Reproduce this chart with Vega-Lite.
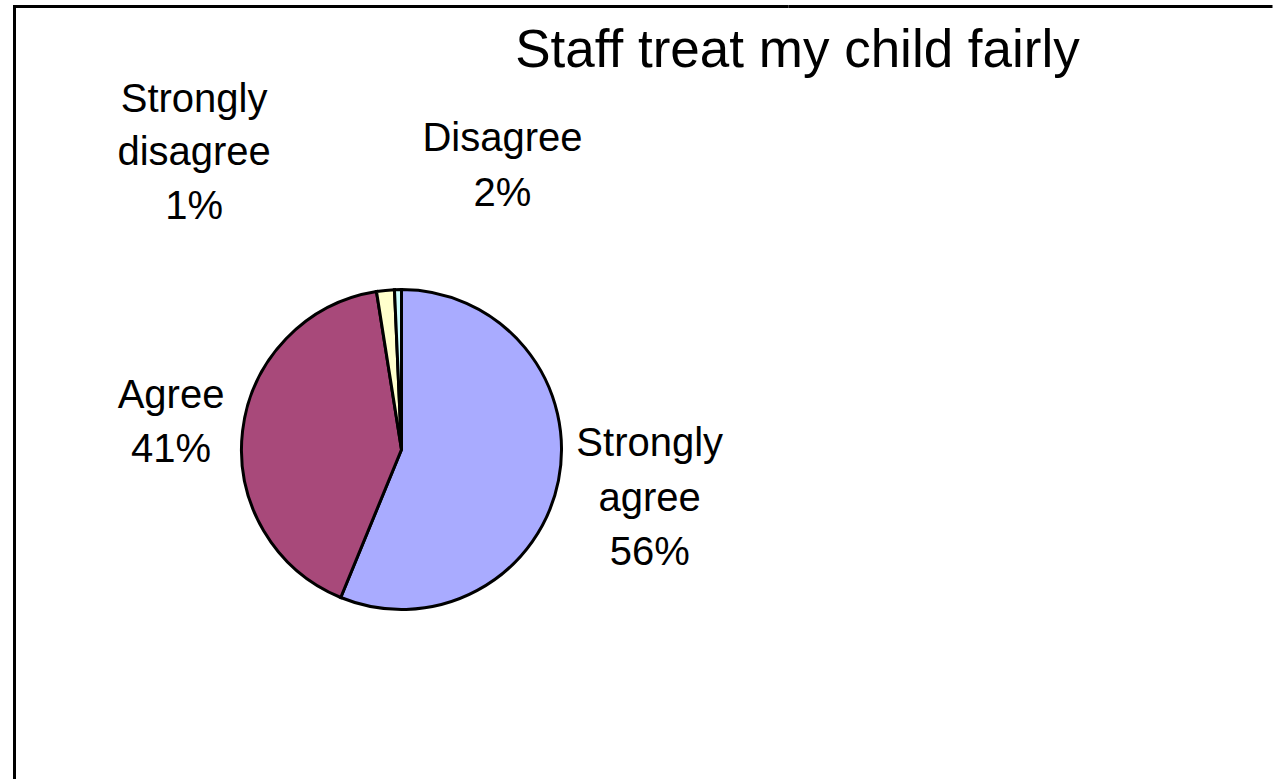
{
  "$schema": "https://vega.github.io/schema/vega-lite/v6.json",
  "autosize": {"type": "pad"},
  "padding": {"left": -0.5, "top": 4.5, "right": -2, "bottom": -113},
  "background": "white",
  "spacing": 0,
  "bounds": "flush",
  "config": {
    "view": {"stroke": null},
    "font": "Liberation Sans"
  },
  "datasets": {
    "responses": [
      {"category": "Strongly agree", "value": 56.2, "order": 1, "label": "Strongly\nagree\n56%"},
      {"category": "Agree", "value": 41.3, "order": 2, "label": "Agree\n41%"},
      {"category": "Disagree", "value": 1.8, "order": 3, "label": "Disagree\n2%"},
      {"category": "Strongly disagree", "value": 0.7, "order": 4, "label": "Strongly\ndisagree\n1%"}
    ],
    "frame": [{}]
  },
  "hconcat": [
    {
      "width": 774,
      "height": 886,
      "title": {
        "text": "Staff treat my child fairly",
        "anchor": "middle",
        "frame": "group",
        "dx": 396,
        "offset": -115,
        "baseline": "alphabetic",
        "fontSize": 53,
        "fontWeight": "normal",
        "font": "Liberation Sans",
        "color": "black"
      },
      "data": {"name": "responses"},
      "layer": [
        {
          "data": {"name": "frame"},
          "mark": {"type": "rect", "fill": null, "stroke": "black", "strokeWidth": 3, "strokeDash": [774, 1660, 886]},
          "encoding": {}
        },
        {
          "mark": {"type": "arc", "outerRadius": 160, "stroke": "black", "strokeWidth": 3},
          "encoding": {
            "theta": {"field": "value", "type": "quantitative", "stack": true},
            "order": {"field": "order", "type": "quantitative"},
            "color": {
              "field": "category",
              "type": "nominal",
              "scale": {
                "domain": ["Strongly agree", "Agree", "Disagree", "Strongly disagree"],
                "range": ["#A9ABFF", "#A8497A", "#FFFFCC", "#CCFFFF"]
              },
              "legend": null
            }
          }
        },
        {
          "mark": {"type": "text", "radius": 253, "dy": -54, "fontSize": 40, "lineHeight": 54.5, "lineBreak": "\n", "align": "center", "baseline": "middle", "color": "black"},
          "encoding": {
            "theta": {"field": "value", "type": "quantitative", "stack": true},
            "order": {"field": "order", "type": "quantitative"},
            "text": {"condition": {"test": "datum.category === 'Strongly agree'", "field": "label"}, "value": ""}
          }
        },
        {
          "mark": {"type": "text", "radius": 232, "dy": -27, "fontSize": 40, "lineHeight": 54, "lineBreak": "\n", "align": "center", "baseline": "middle", "color": "black"},
          "encoding": {
            "theta": {"field": "value", "type": "quantitative", "stack": true},
            "order": {"field": "order", "type": "quantitative"},
            "text": {"condition": {"test": "datum.category === 'Agree'", "field": "label"}, "value": ""}
          }
        },
        {
          "mark": {"type": "text", "radius": 200, "dx": 121, "dy": -112, "fontSize": 40, "lineHeight": 55, "lineBreak": "\n", "align": "center", "baseline": "middle", "color": "black"},
          "encoding": {
            "theta": {"field": "value", "type": "quantitative", "stack": true},
            "order": {"field": "order", "type": "quantitative"},
            "text": {"condition": {"test": "datum.category === 'Disagree'", "field": "label"}, "value": ""}
          }
        },
        {
          "mark": {"type": "text", "radius": 200, "dx": -203, "dy": -150, "fontSize": 40, "lineHeight": 53.5, "lineBreak": "\n", "align": "center", "baseline": "middle", "color": "black"},
          "encoding": {
            "theta": {"field": "value", "type": "quantitative", "stack": true},
            "order": {"field": "order", "type": "quantitative"},
            "text": {"condition": {"test": "datum.category === 'Strongly disagree'", "field": "label"}, "value": ""}
          }
        }
      ]
    },
    {
      "width": 484,
      "height": 886,
      "data": {"name": "frame"},
      "mark": {"type": "rect", "fill": null, "stroke": "black", "strokeWidth": 3, "strokeDash": [484, 3000]},
      "encoding": {}
    }
  ]
}
